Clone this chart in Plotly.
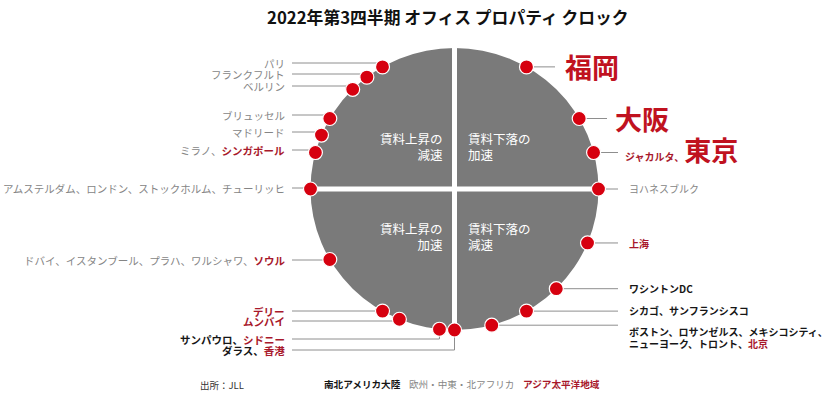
import math
import plotly.graph_objects as go

# ---------------- data ----------------
TITLE = "2022年第3四半期 オフィス プロパティ クロック"

# clock position (hours; 12 = top) of each dot
clock_hours = [11.0, 10.75, 10.5, 10.0, 9.75, 9.5, 9.0, 8.0, 7.0, 6.75, 6.2, 6.0,
               5.5, 5.0, 4.5, 3.75, 3.0, 2.5, 2.0, 1.0]

# cities sitting at each dot, with region: EU = 欧州・中東・北アフリカ, AM = 南北アメリカ大陸, AP = アジア太平洋地域
city_groups = [
    [("パリ", "EU")],
    [("フランクフルト", "EU")],
    [("ベルリン", "EU")],
    [("ブリュッセル", "EU")],
    [("マドリード", "EU")],
    [("ミラノ", "EU"), ("シンガポール", "AP")],
    [("アムステルダム", "EU"), ("ロンドン", "EU"), ("ストックホルム", "EU"), ("チューリッヒ", "EU")],
    [("ドバイ", "EU"), ("イスタンブール", "EU"), ("プラハ", "EU"), ("ワルシャワ", "EU"), ("ソウル", "AP")],
    [("デリー", "AP")],
    [("ムンバイ", "AP")],
    [("サンパウロ", "AM"), ("シドニー", "AP")],
    [("ダラス", "AM"), ("香港", "AP")],
    [("ボストン", "AM"), ("ロサンゼルス", "AM"), ("メキシコシティ", "AM"),
     ("ニューヨーク", "AM"), ("トロント", "AM"), ("北京", "AP")],
    [("シカゴ", "AM"), ("サンフランシスコ", "AM")],
    [("ワシントンDC", "AM")],
    [("上海", "AP")],
    [("ヨハネスブルク", "EU")],
    [("ジャカルタ", "AP"), ("東京", "AP")],
    [("大阪", "AP")],
    [("福岡", "AP")],
]
highlight_cities = ["東京", "大阪", "福岡"]

quadrant_labels = ["賃料上昇の<br>減速", "賃料下落の<br>加速", "賃料上昇の<br>加速", "賃料下落の<br>減速"]
legend_labels = ["南北アメリカ大陸", "欧州・中東・北アフリカ", "アジア太平洋地域"]
legend_regions = ["AM", "EU", "AP"]
source_text = "出所：JLL"

# ---------------- layout / style ----------------
W, H = 840, 400
CX, CY = 454.5, 189.0       # clock centre (pixel space axes)
RX, RY = 144.0, 141.0       # clock radii
FONT = "Noto Sans CJK JP"

STYLE = {
    "EU": dict(color="#858585", bold=False),
    "AM": dict(color="#161616", bold=True),
    "AP": dict(color="#a8182b", bold=True),
}
BIG_COLOR = "#c0121f"
BIG_SIZE = 27
LEFT_SIZE = 10.5
RIGHT_SIZE = 10

# label placement per group: side, label line y's, line break index, leader end / text x
label_side = ["L"] * 12 + ["R"] * 8
label_ys = [[63], [74], [86], [115], [132], [150], [188], [260], [311], [321], [339], [350],
            [331, 343], [310], [288], [243], [188], [149], [118], [66]]
line_breaks = {12: 3}
right_leader_end = [618, 618, 618, 618, 618, 618, 607, 555]
right_text_x = [627, 627, 627, 627, 627, 623, 613, 563]
LEFT_TEXT_X, LEFT_LEADER_X = 287, 292


def fmt(name, region, sep):
    s = STYLE[region]
    if name in highlight_cities:
        return f"<span style='color:{BIG_COLOR};font-size:{BIG_SIZE}px'><b>{name}</b></span>" + sep
    txt = name + sep
    if s["bold"]:
        txt = f"<b>{txt}</b>"
    return f"<span style='color:{s['color']}'>{txt}</span>"


fig = go.Figure()

# dot positions from clock hours
dot_x, dot_y = [], []
for h in clock_hours:
    th = math.radians(h / 12.0 * 360.0)
    dot_x.append(CX + RX * math.sin(th))
    dot_y.append(CY - RY * math.cos(th))

# clock face and dividers
shapes = [
    dict(type="circle", xref="x", yref="y", x0=CX - RX, x1=CX + RX, y0=CY - RY, y1=CY + RY,
         fillcolor="#7a7a7a", line=dict(width=0), layer="below"),
    dict(type="line", xref="x", yref="y", x0=CX, x1=CX, y0=CY - RY, y1=CY + RY,
         line=dict(color="white", width=5), layer="below"),
    dict(type="line", xref="x", yref="y", x0=CX - RX, x1=CX + RX, y0=CY, y1=CY,
         line=dict(color="white", width=5), layer="below"),
]

# leader lines + labels
lx, ly = [], []
annotations = []
ri = 0
for i, grp in enumerate(city_groups):
    dx, dy = dot_x[i], dot_y[i]
    ys = label_ys[i]
    parts = [fmt(n, r, "、" if k < len(grp) - 1 else "") for k, (n, r) in enumerate(grp)]
    if label_side[i] == "L":
        y0 = ys[0]
        lx += [LEFT_LEADER_X, dx, dx, None]
        ly += [y0, y0, dy, None]
        annotations.append(dict(x=LEFT_TEXT_X, y=y0, xref="x", yref="y", text="".join(parts),
                                xanchor="right", yanchor="middle", showarrow=False,
                                font=dict(family=FONT, size=LEFT_SIZE)))
    else:
        lx += [dx, right_leader_end[ri], None]
        ly += [dy, dy, None]
        brk = line_breaks.get(i)
        lines = [parts] if brk is None else [parts[:brk], parts[brk:]]
        for li, lp in enumerate(lines):
            annotations.append(dict(x=right_text_x[ri], y=ys[li], xref="x", yref="y",
                                    text="".join(lp), xanchor="left", yanchor="middle",
                                    showarrow=False, font=dict(family=FONT, size=RIGHT_SIZE)))
        ri += 1

fig.add_trace(go.Scatter(x=lx, y=ly, mode="lines", line=dict(color="#8e8e8e", width=1),
                         hoverinfo="skip", showlegend=False))
fig.add_trace(go.Scatter(x=dot_x, y=dot_y, mode="markers",
                         marker=dict(size=14, color="#d6000f", line=dict(color="white", width=1.2)),
                         hoverinfo="skip", showlegend=False))

# quadrant labels
q_pos = [(445, 146, "right"), (466, 146, "left"), (445, 236, "right"), (466, 236, "left")]
for t, (x, y, anc) in zip(quadrant_labels, q_pos):
    annotations.append(dict(x=x, y=y, xref="x", yref="y", text=t, xanchor=anc, align=anc,
                            yanchor="middle", showarrow=False,
                            font=dict(family=FONT, size=12.5, color="white")))

# title
annotations.append(dict(x=448, y=17, xref="x", yref="y", text=f"<b>{TITLE}</b>",
                        xanchor="center", yanchor="middle", showarrow=False,
                        font=dict(family=FONT, size=16.8, color="#111111")))
# source
annotations.append(dict(x=198, y=385, xref="x", yref="y", text=source_text, xanchor="left",
                        yanchor="middle", showarrow=False,
                        font=dict(family=FONT, size=9.5, color="#333333")))
# region legend (single line)
leg_parts = []
for t, r in zip(legend_labels, legend_regions):
    s = STYLE[r]
    txt = f"<b>{t}</b>" if s["bold"] else t
    leg_parts.append(f"<span style='color:{s['color']}'>{txt}</span>")
annotations.append(dict(x=322, y=384, xref="x", yref="y", text="    ".join(leg_parts),
                        xanchor="left", yanchor="middle", showarrow=False,
                        font=dict(family=FONT, size=9.6)))

fig.update_layout(
    width=W, height=H, margin=dict(l=0, r=0, t=0, b=0, pad=0),
    paper_bgcolor="white", plot_bgcolor="white",
    xaxis=dict(range=[0, W], visible=False, fixedrange=True),
    yaxis=dict(range=[H, 0], visible=False, fixedrange=True),
    shapes=shapes, annotations=annotations, showlegend=False,
)

fig.write_html("out.html", config={"displayModeBar": False},
               post_script="document.body.style.margin='0';document.body.style.overflow='hidden';")
